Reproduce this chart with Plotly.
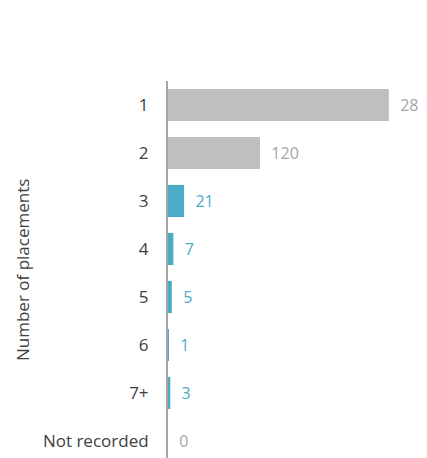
import plotly.graph_objects as go

categories = ["1", "2", "3", "4", "5", "6", "7+", "Not recorded"]
values = [288, 120, 21, 7, 5, 1, 3, 0]
bar_colors = ["#bfbfbf", "#bfbfbf", "#4bacc6", "#4bacc6", "#4bacc6", "#4bacc6", "#4bacc6", "#bfbfbf"]
label_colors = ["#a6a6a6", "#a6a6a6", "#4bacc6", "#4bacc6", "#4bacc6", "#4bacc6", "#4bacc6", "#a6a6a6"]

# page body has an 8px margin, so the figure is sized/offset to compensate
FIG_W, FIG_H = 419, 450
ML, MT = 160, 73
W = FIG_W - ML
H = FIG_H - MT

fig = go.Figure()
fig.add_trace(go.Bar(
    x=values, y=categories, orientation="h",
    marker=dict(color=bar_colors, line=dict(width=0)),
    text=["\u00a0\u00a0" + str(v) for v in values], textposition="outside",
    textfont=dict(family="Open Sans", size=16, color=label_colors),
    cliponaxis=False,
))
fig.update_layout(
    width=FIG_W, height=FIG_H,
    margin=dict(l=ML, r=0, t=MT, b=0, pad=0),
    paper_bgcolor="white", plot_bgcolor="white",
    bargap=0.33,
    showlegend=False,
    font=dict(family="Open Sans", size=17, color="#404040"),
    xaxis=dict(range=[0, 337.7], visible=False, showgrid=False, zeroline=False),
    yaxis=dict(
        range=[7.354, -0.5], showgrid=False, zeroline=False,
        showline=True, linecolor="#a6a6a6", linewidth=2,
        ticks="", ticklabelstandoff=14,
        tickfont=dict(family="Open Sans", size=17, color="#404040"),
    ),
    annotations=[dict(
        text="Number of placements",
        x=(14 - ML) / W, y=(FIG_H - 262) / H, xref="paper", yref="paper",
        xanchor="center", yanchor="middle",
        showarrow=False, textangle=-90,
        font=dict(family="Open Sans", size=17, color="#404040"),
    )],
)
fig.write_html("out.html")
